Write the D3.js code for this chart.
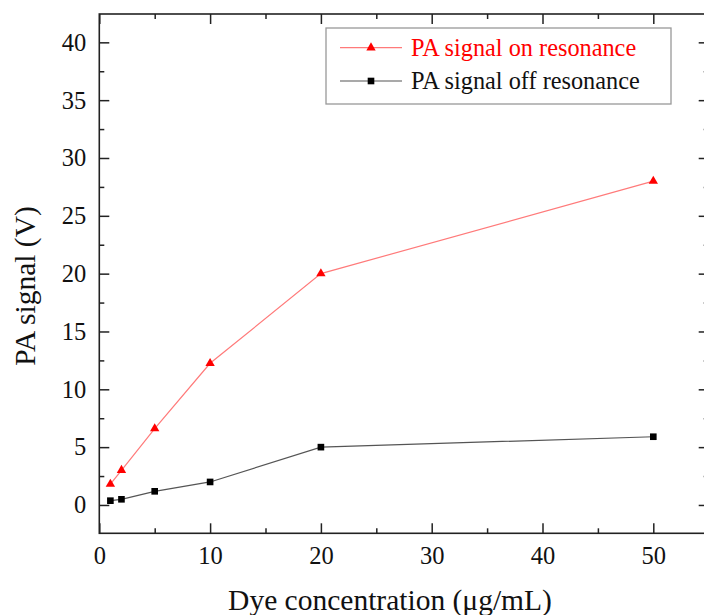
<!DOCTYPE html>
<html>
<head>
<meta charset="utf-8">
<script src="https://cdn.jsdelivr.net/npm/d3@7"></script>
<style>
  body { margin: 0; background: #fff; }
  svg text { font-family: "Liberation Serif", "Times New Roman", serif; }
</style>
</head>
<body>
<svg id="chart" width="704" height="615"></svg>
<script>
// data
const concentration = [1, 2, 5, 10, 20, 50];
const onResonance = [1.8, 3.0, 6.6, 12.25, 20.0, 28.0];
const offResonance = [0.37, 0.49, 1.18, 1.99, 5.0, 5.9];
const xTicks = [0, 10, 20, 30, 40, 50];
const xMinor = [5, 15, 25, 35, 45];
const yTicks = [0, 5, 10, 15, 20, 25, 30, 35, 40];
const yMinor = [2.5, 7.5, 12.5, 17.5, 22.5, 27.5, 32.5, 37.5];
const seriesNames = ['PA signal on resonance', 'PA signal off resonance'];

const plotL = 99.3, plotR = 708.7, plotT = 14, plotB = 533.3;
const svg = d3.select('#chart');

const x = d3.scaleLinear().domain([0, 55]).range([plotL, plotR]);
const y = d3.scaleLinear().domain([-2.45, 42.45]).range([plotB, plotT]);

// frame
svg.append('rect')
  .attr('x', plotL).attr('y', plotT)
  .attr('width', plotR - plotL).attr('height', plotB - plotT)
  .attr('fill', 'none').attr('stroke', '#222').attr('stroke-width', 1.6);

function styleAxis(g) {
  g.select('.domain').remove();
  g.selectAll('.tick line').attr('stroke', '#222').attr('stroke-width', 1.5);
  g.selectAll('.tick text')
    .attr('fill', '#111')
    .style('font-size', '24.5px');
}

function addAxis(axis, tx, ty) {
  svg.append('g').attr('transform', `translate(${tx},${ty})`).call(axis).call(styleAxis);
}

// bottom
addAxis(d3.axisBottom(x).tickValues(xTicks).tickSizeInner(-10).tickSizeOuter(0).tickPadding(13).tickFormat(d3.format('d')), 0, plotB);
addAxis(d3.axisBottom(x).tickValues(xMinor).tickSizeInner(-5).tickSizeOuter(0).tickFormat(''), 0, plotB);
// top
addAxis(d3.axisTop(x).tickValues(xTicks).tickSizeInner(-10).tickSizeOuter(0).tickFormat(''), 0, plotT);
addAxis(d3.axisTop(x).tickValues(xMinor).tickSizeInner(-5).tickSizeOuter(0).tickFormat(''), 0, plotT);
// left
addAxis(d3.axisLeft(y).tickValues(yTicks).tickSizeInner(-10).tickSizeOuter(0).tickPadding(13).tickFormat(d3.format('d')), plotL, 0);
addAxis(d3.axisLeft(y).tickValues(yMinor).tickSizeInner(-5).tickSizeOuter(0).tickFormat(''), plotL, 0);
// right
addAxis(d3.axisRight(y).tickValues(yTicks).tickSizeInner(-10).tickSizeOuter(0).tickFormat(''), plotR, 0);
addAxis(d3.axisRight(y).tickValues(yMinor).tickSizeInner(-5).tickSizeOuter(0).tickFormat(''), plotR, 0);

// axis titles
svg.append('text')
  .attr('x', 390).attr('y', 610)
  .attr('text-anchor', 'middle')
  .style('font-size', '29.5px').attr('fill', '#111')
  .text('Dye concentration (μg/mL)');
svg.append('text')
  .attr('transform', 'translate(35,286) rotate(-90)')
  .attr('text-anchor', 'middle')
  .style('font-size', '29.5px').attr('fill', '#111')
  .text('PA signal (V)');

// series
const line = d3.line().x(d => x(d[0])).y(d => y(d[1]));
const onPts = concentration.map((c, i) => [c, onResonance[i]]);
const offPts = concentration.map((c, i) => [c, offResonance[i]]);
const tri = d3.symbol().type(d3.symbolTriangle).size(38);
const sq = d3.symbol().type(d3.symbolSquare).size(44);

svg.append('path').datum(offPts)
  .attr('d', line).attr('fill', 'none').attr('stroke', '#555').attr('stroke-width', 1.2);
svg.append('g').selectAll('path').data(offPts).enter().append('path')
  .attr('d', sq).attr('transform', d => `translate(${x(d[0])},${y(d[1])})`)
  .attr('fill', '#000');

svg.append('path').datum(onPts)
  .attr('d', line).attr('fill', 'none').attr('stroke', '#ff7a7a').attr('stroke-width', 1.2);
svg.append('g').selectAll('path').data(onPts).enter().append('path')
  .attr('d', tri).attr('transform', d => `translate(${x(d[0])},${y(d[1])})`)
  .attr('fill', '#ff0000');

// legend
const legend = svg.append('g');
legend.append('rect')
  .attr('x', 326).attr('y', 28).attr('width', 345).attr('height', 76)
  .attr('fill', '#fff').attr('stroke', '#999').attr('stroke-width', 1.3);
const legendRows = [
  { name: seriesNames[0], color: '#ff0000', mark: '#ff0000', lineColor: '#ff7a7a', sym: tri, cy: 47.7 },
  { name: seriesNames[1], color: '#111', mark: '#000', lineColor: '#555', sym: sq, cy: 81 }
];
legendRows.forEach(r => {
  legend.append('line')
    .attr('x1', 340).attr('x2', 402).attr('y1', r.cy).attr('y2', r.cy)
    .attr('stroke', r.lineColor).attr('stroke-width', 1.2);
  legend.append('path').attr('d', r.sym)
    .attr('transform', `translate(371,${r.cy})`).attr('fill', r.mark);
  legend.append('text')
    .attr('x', 411).attr('y', r.cy + 8)
    .style('font-size', '24.3px').attr('fill', r.color)
    .text(r.name);
});
</script>
</body>
</html>
